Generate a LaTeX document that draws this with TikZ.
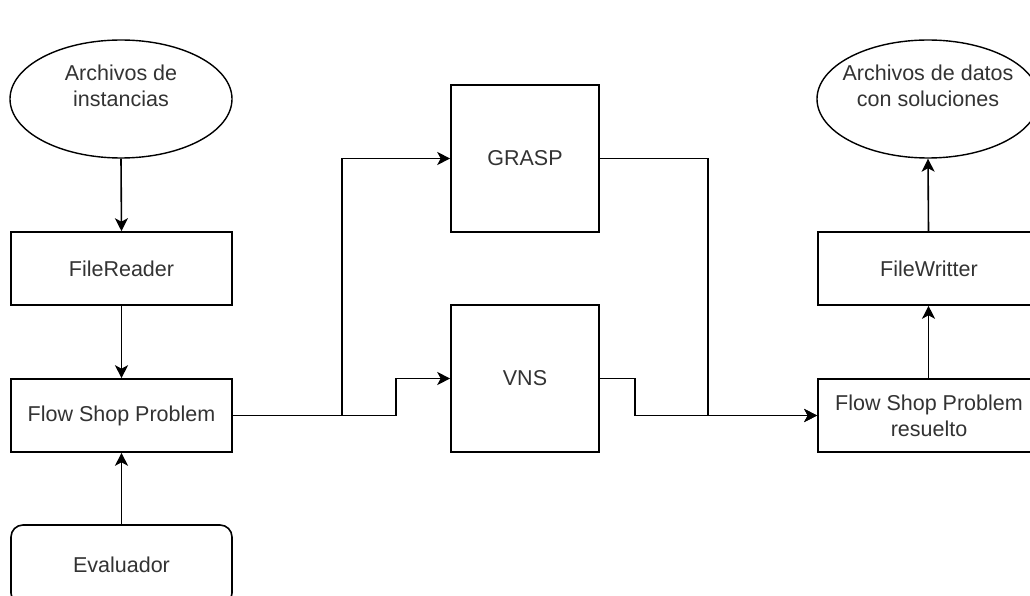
\documentclass[tikz,border=0pt]{standalone}
\usepackage{fontspec}
\setmainfont{Liberation Sans}
\usetikzlibrary{shapes.geometric,arrows.meta}
\definecolor{txt}{HTML}{333333}
\tikzset{
  every node/.style={font=\fontsize{21.5}{26}\selectfont, text=txt, align=center},
  box/.style={draw=black, line width=1.6pt, rectangle, inner sep=0pt},
  rbox/.style={box, rounded corners=12pt},
  oval/.style={draw=black, line width=1.4pt, ellipse, inner sep=0pt},
  conn/.style={draw=black, line width=1.6pt, -{Stealth[length=13pt,width=13pt,inset=3.5pt]}},
}
\begin{document}
\begin{tikzpicture}[x=1pt,y=-1pt]
\clip (0,0) rectangle (1030,596);
\fill[white] (0,0) rectangle (1030,596);
% left column
\node[oval, minimum width=222pt, minimum height=118pt] (e1) at (121,99) {};
\node (e1t) at (121,86) {Archivos de\\instancias};
\node[box, minimum width=221pt, minimum height=73pt] (fr) at (121.5,268.5) {FileReader};
\node[box, minimum width=221pt, minimum height=73pt] (fsp) at (121.5,415.5) {Flow Shop Problem};
\node[rbox, minimum width=221pt, minimum height=80pt] (ev) at (121.5,565) {Evaluador};
% middle
\node[box, minimum width=148pt, minimum height=147pt] (grasp) at (525,158.5) {GRASP};
\node[box, minimum width=148pt, minimum height=147pt] (vns) at (525,378.5) {VNS};
% right column
\node[oval, minimum width=222pt, minimum height=118pt] (e2) at (928,99) {};
\node (e2t) at (928,86) {Archivos de datos\\con soluciones};
\node[box, minimum width=221pt, minimum height=73pt] (fw) at (928.5,268.5) {};
\node (fwt) at (929,268.5) {FileWritter};
\node[box, minimum width=221pt, minimum height=73pt] (fspr) at (928.5,415.5) {};
\node (fsprt) at (929,416) {Flow Shop Problem\\resuelto};
% junction coordinates
\coordinate (j1) at (342,415.5);
\coordinate (j2) at (396,415.5);
\coordinate (j3) at (708,415.5);
\coordinate (j4) at (635,415.5);
% connectors
\draw[conn] (e1.south) -- (fr.north);
\draw[conn] (fr.south) -- (fsp.north);
\draw[conn] (ev.north) -- (fsp.south);
\draw[conn] (fsp.east) -- (j1) |- (grasp.west);
\draw[conn] (fsp.east) -- (j2) |- (vns.west);
\draw[conn] (grasp.east) -| (j3) -- (fspr.west);
\draw[conn] (vns.east) -| (j4) -- (fspr.west);
\draw[conn] (fspr.north) -- (fw.south);
\draw[conn] (fw.north) -- (e2.south);
\end{tikzpicture}
\end{document}
